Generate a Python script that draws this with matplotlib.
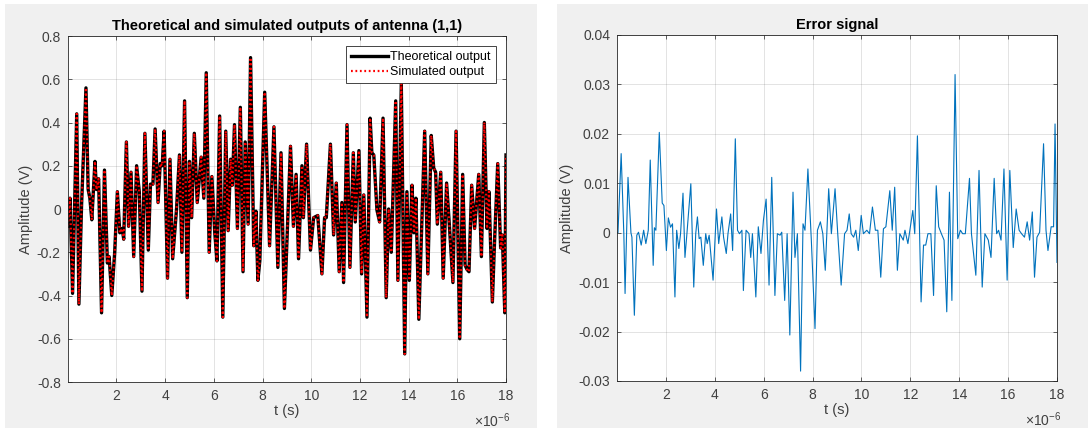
"""Theoretical vs simulated output of antenna (1,1) and the error signal."""

import matplotlib
matplotlib.use("Agg")
import matplotlib.pyplot as plt
from matplotlib.patches import Rectangle
from matplotlib.ticker import FuncFormatter, MultipleLocator

plt.rcParams["font.family"] = ["Liberation Sans", "DejaVu Sans"]
plt.rcParams["axes.unicode_minus"] = False
plt.rcParams["mathtext.fontset"] = "custom"
plt.rcParams["mathtext.rm"] = "Liberation Sans"

# turning points of the output signal, t in units of 1e-6 s
T_OUT = [
    0.0, 0.095, 0.20, 0.37, 0.46, 0.57, 0.75, 0.84, 0.91, 0.99,
    1.12, 1.18, 1.27, 1.39, 1.51, 1.63, 1.70, 1.81, 1.93, 2.04,
    2.14, 2.24, 2.30, 2.41, 2.50, 2.60, 2.71, 2.83, 2.94, 3.05,
    3.17, 3.31, 3.40, 3.50, 3.59, 3.71, 3.80, 3.88, 3.96, 4.10,
    4.20, 4.31, 4.47, 4.59, 4.69, 4.80, 4.91, 5.00, 5.09, 5.20,
    5.32, 5.48, 5.59, 5.69, 5.81, 5.92, 6.04, 6.13, 6.24, 6.37,
    6.49, 6.59, 6.69, 6.76, 6.85, 6.97, 7.09, 7.20, 7.29, 7.41,
    7.51, 7.64, 7.73, 7.81, 7.89, 8.09, 8.29, 8.47, 8.63, 8.76,
    8.90, 9.15, 9.27, 9.38, 9.48, 9.62, 9.68, 9.81, 9.97, 10.10,
    10.27, 10.44, 10.55, 10.62, 10.79, 10.92, 11.03, 11.15, 11.26, 11.33,
    11.47, 11.59, 11.73, 11.81, 11.96, 12.07, 12.16, 12.29, 12.42, 12.49,
    12.57, 12.70, 12.81, 12.95, 13.08, 13.18, 13.29, 13.47, 13.56, 13.70,
    13.84, 13.93, 14.03, 14.14, 14.22, 14.30, 14.42, 14.66, 14.79, 14.93,
    15.03, 15.11, 15.18, 15.32, 15.42, 15.56, 15.66, 15.82, 15.95, 16.10,
    16.22, 16.32, 16.40, 16.48, 16.59, 16.71, 16.88, 16.99, 17.11, 17.22,
    17.30, 17.44, 17.53, 17.66, 17.78, 17.85, 17.95, 18.00,
]
V_THEORY = [
    -0.08, 0.05, -0.39, 0.44, -0.44, 0.02, 0.56, 0.09, 0.05, -0.05,
    0.22, 0.09, 0.14, -0.48, 0.18, -0.25, -0.22, -0.40, -0.20, 0.08,
    -0.11, -0.09, -0.14, 0.31, -0.08, 0.17, -0.22, 0.20, 0.08, -0.38,
    0.35, -0.19, 0.115, 0.115, 0.37, 0.03, 0.21, 0.20, 0.36, -0.32,
    0.23, -0.23, 0.00, 0.25, -0.20, 0.50, -0.41, 0.22, -0.04, 0.35,
    0.03, 0.24, 0.05, 0.63, -0.20, 0.15, -0.11, -0.24, 0.43, -0.50,
    0.36, -0.10, 0.23, 0.11, 0.39, -0.09, 0.47, -0.29, 0.31, -0.07,
    0.70, -0.17, -0.01, -0.33, -0.24, 0.54, -0.17, 0.38, -0.27, 0.26,
    -0.46, 0.29, -0.08, 0.16, -0.23, 0.20, -0.04, 0.30, -0.19, -0.04,
    -0.03, -0.30, -0.04, -0.04, 0.30, -0.12, 0.12, -0.29, 0.03, -0.34,
    0.39, -0.27, 0.26, -0.06, 0.27, -0.30, 0.065, -0.50, 0.42, 0.26,
    0.25, -0.005, -0.06, 0.42, -0.41, 0.00, -0.20, 0.50, -0.33, 0.58,
    -0.67, 0.08, -0.33, 0.11, -0.11, 0.05, -0.51, 0.36, -0.30, 0.34,
    0.19, 0.17, -0.07, 0.17, -0.32, 0.12, -0.05, -0.34, 0.36, -0.60,
    0.16, -0.26, -0.28, -0.29, 0.11, -0.09, 0.16, -0.22, 0.40, -0.09,
    0.08, -0.43, -0.15, 0.21, -0.18, -0.12, -0.48, 0.25,
]
# the simulated output sits on top of the theoretical one at this scale
V_SIM = list(V_THEORY)

# turning points of the error signal
T_ERR = [
    0.0, 0.04, 0.17, 0.28, 0.33, 0.45, 0.57, 0.61, 0.71, 0.81,
    0.88, 0.99, 1.09, 1.18, 1.28, 1.36, 1.48, 1.53, 1.59, 1.73,
    1.85, 1.92, 2.02, 2.10, 2.19, 2.27, 2.37, 2.44, 2.53, 2.60,
    2.70, 2.78, 2.86, 3.02, 3.14, 3.22, 3.29, 3.36, 3.43, 3.53,
    3.63, 3.69, 3.77, 3.93, 4.07, 4.16, 4.29, 4.36, 4.47, 4.54,
    4.65, 4.73, 4.84, 4.93, 5.01, 5.11, 5.17, 5.28, 5.40, 5.47,
    5.54, 5.68, 5.78, 5.89, 5.99, 6.10, 6.22, 6.33, 6.46, 6.56,
    6.67, 6.74, 6.86, 6.96, 7.07, 7.20, 7.28, 7.38, 7.51, 7.61,
    7.69, 7.81, 7.95, 8.10, 8.20, 8.32, 8.42, 8.52, 8.66, 8.77,
    8.92, 9.03, 9.17, 9.31, 9.41, 9.50, 9.58, 9.68, 9.77, 9.87,
    9.99, 10.08, 10.22, 10.33, 10.45, 10.57, 10.67, 10.79, 10.90, 11.00,
    11.16, 11.26, 11.36, 11.47, 11.57, 11.71, 11.78, 11.90, 12.10, 12.18,
    12.29, 12.44, 12.54, 12.63, 12.72, 12.84, 12.95, 13.06, 13.16, 13.27,
    13.38, 13.49, 13.60, 13.70, 13.83, 13.94, 14.05, 14.14, 14.25, 14.42,
    14.50, 14.68, 14.81, 14.94, 15.05, 15.19, 15.30, 15.43, 15.53, 15.61,
    15.71, 15.83, 15.96, 16.07, 16.21, 16.33, 16.45, 16.55, 16.67, 16.78,
    16.88, 16.99, 17.08, 17.18, 17.29, 17.45, 17.55, 17.63, 17.76, 17.86,
    17.92, 18.00,
]
V_ERR = [
    0.0, 0.0, 0.016, -0.0003, -0.0123, 0.0112, 0.0, -0.0009, -0.0167, -0.0005,
    0.0001, -0.0025, 0.0005, -0.0022, 0.0005, 0.0147, -0.0066, 0.001, 0.0005, 0.0203,
    0.006, 0.0055, -0.0036, 0.003, 0.0011, 0.0018, -0.013, 0.0005, -0.0032, -0.0002,
    0.008, -0.005, -0.0002, 0.0099, -0.011, -0.0002, 0.0032, -0.0012, -0.0009, -0.0066,
    -0.0002, -0.0022, -0.0005, -0.0096, 0.0048, -0.0022, 0.0032, -0.0009, -0.0042, -0.0002,
    0.0038, -0.0036, 0.019, 0.0005, -0.0002, 0.0005, -0.0117, 0.0005, -0.0002, -0.005,
    -0.0002, -0.013, 0.0012, -0.0042, 0.0025, 0.0068, -0.0106, 0.0112, -0.0127, -0.0002,
    -0.0005, 0.0001, -0.0137, -0.0002, -0.0207, 0.0082, -0.005, -0.0002, -0.028, 0.0018,
    0.0005, 0.0129, -0.0015, -0.0194, 0.0005, 0.0022, -0.0002, -0.0076, 0.0089, -0.0002,
    0.0089, -0.0002, -0.0106, -0.0002, 0.0005, 0.0038, -0.0002, -0.0009, 0.0005, -0.0036,
    0.0035, -0.0002, 0.0005, -0.0002, 0.0052, 0.0005, 0.0005, -0.009, 0.0008, 0.0012,
    0.0085, 0.0005, 0.0092, -0.0076, -0.0002, -0.0015, 0.0005, -0.0022, 0.0045, -0.0002,
    0.0196, -0.014, -0.0025, -0.0025, -0.0002, -0.0002, -0.0127, 0.0095, 0.0012, -0.0002,
    -0.0015, -0.016, 0.0082, -0.0137, 0.032, -0.0012, 0.0005, -0.0002, -0.0002, 0.011,
    -0.0002, -0.0086, 0.0126, -0.011, -0.0002, -0.0015, -0.005, 0.011, -0.0002, 0.0005,
    -0.0015, 0.0129, -0.0096, 0.0126, -0.003, 0.0048, 0.0005, -0.0002, -0.0009, 0.0022,
    -0.0015, 0.0042, -0.009, -0.0009, 0.0001, 0.018, 0.0005, -0.0036, 0.0012, 0.0012,
    0.022, -0.006,
]

X_TICKS = [2, 4, 6, 8, 10, 12, 14, 16, 18]

W, H = 1088, 428
AX_COLOR = "#262626"
TEXT_COLOR = "#404040"


def setup_axis(ax, title: str, ylim: tuple[float, float], ystep: float) -> None:
    ax.set_facecolor("white")
    ax.set_xlim(0, 18)
    ax.set_ylim(*ylim)
    ax.set_xticks(X_TICKS)
    ax.yaxis.set_major_locator(MultipleLocator(ystep))
    ax.yaxis.set_major_formatter(FuncFormatter(lambda v, _: f"{round(v, 6):g}"))
    ax.tick_params(direction="in", length=3, width=0.5, colors=AX_COLOR,
                   labelcolor=TEXT_COLOR, labelsize=10, top=True, right=True, pad=5)
    ax.grid(True, color=AX_COLOR, alpha=0.15, linewidth=0.6)
    for spine in ax.spines.values():
        spine.set_color(AX_COLOR)
        spine.set_linewidth(0.6)
    ax.set_title(title, fontsize=10.5, fontweight="bold", color="black", pad=4)
    ax.set_xlabel("t (s)", fontsize=10.5, color=TEXT_COLOR, labelpad=1)
    ax.set_ylabel("Amplitude (V)", fontsize=10.5, color=TEXT_COLOR, labelpad=3)
    ax.text(1.01, -0.085, r"$\mathregular{\times10^{-6}}$", transform=ax.transAxes,
            ha="right", va="top", fontsize=10, color=TEXT_COLOR)


fig = plt.figure(figsize=(W / 100, H / 100), dpi=100, facecolor="white")
for x0, x1 in [(5, 537), (557, 1088)]:
    fig.patches.append(Rectangle((x0 / W, 0), (x1 - x0) / W, 424 / H,
                                 transform=fig.transFigure, facecolor="#f0f0f0",
                                 edgecolor="none", zorder=-10))

ax1 = fig.add_axes([67.7 / W, 1 - 382 / H, (506 - 67.7) / W, 346 / H])
ax1.plot(T_OUT, V_THEORY, color="black", linewidth=2.4, label="Theoretical output")
ax1.plot(T_OUT, V_SIM, color="red", linestyle=(0, (0.8, 1.2)), linewidth=1.6,
         label="Simulated output")
setup_axis(ax1, "Theoretical and simulated outputs of antenna (1,1)", (-0.8, 0.8), 0.2)
leg = ax1.legend(loc="upper right", fontsize=9, handlelength=3.0, borderaxespad=0.8,
                 fancybox=False, framealpha=1, edgecolor=AX_COLOR, borderpad=0.4,
                 labelspacing=0.25, handletextpad=0.2)
leg.get_frame().set_linewidth(0.6)

ax2 = fig.add_axes([617 / W, 1 - 381 / H, (1057 - 617) / W, 346 / H])
ax2.plot(T_ERR, V_ERR, color="#0072BD", linewidth=0.8)
setup_axis(ax2, "Error signal", (-0.03, 0.04), 0.01)

fig.savefig("out.png", dpi=100, facecolor=fig.get_facecolor())
